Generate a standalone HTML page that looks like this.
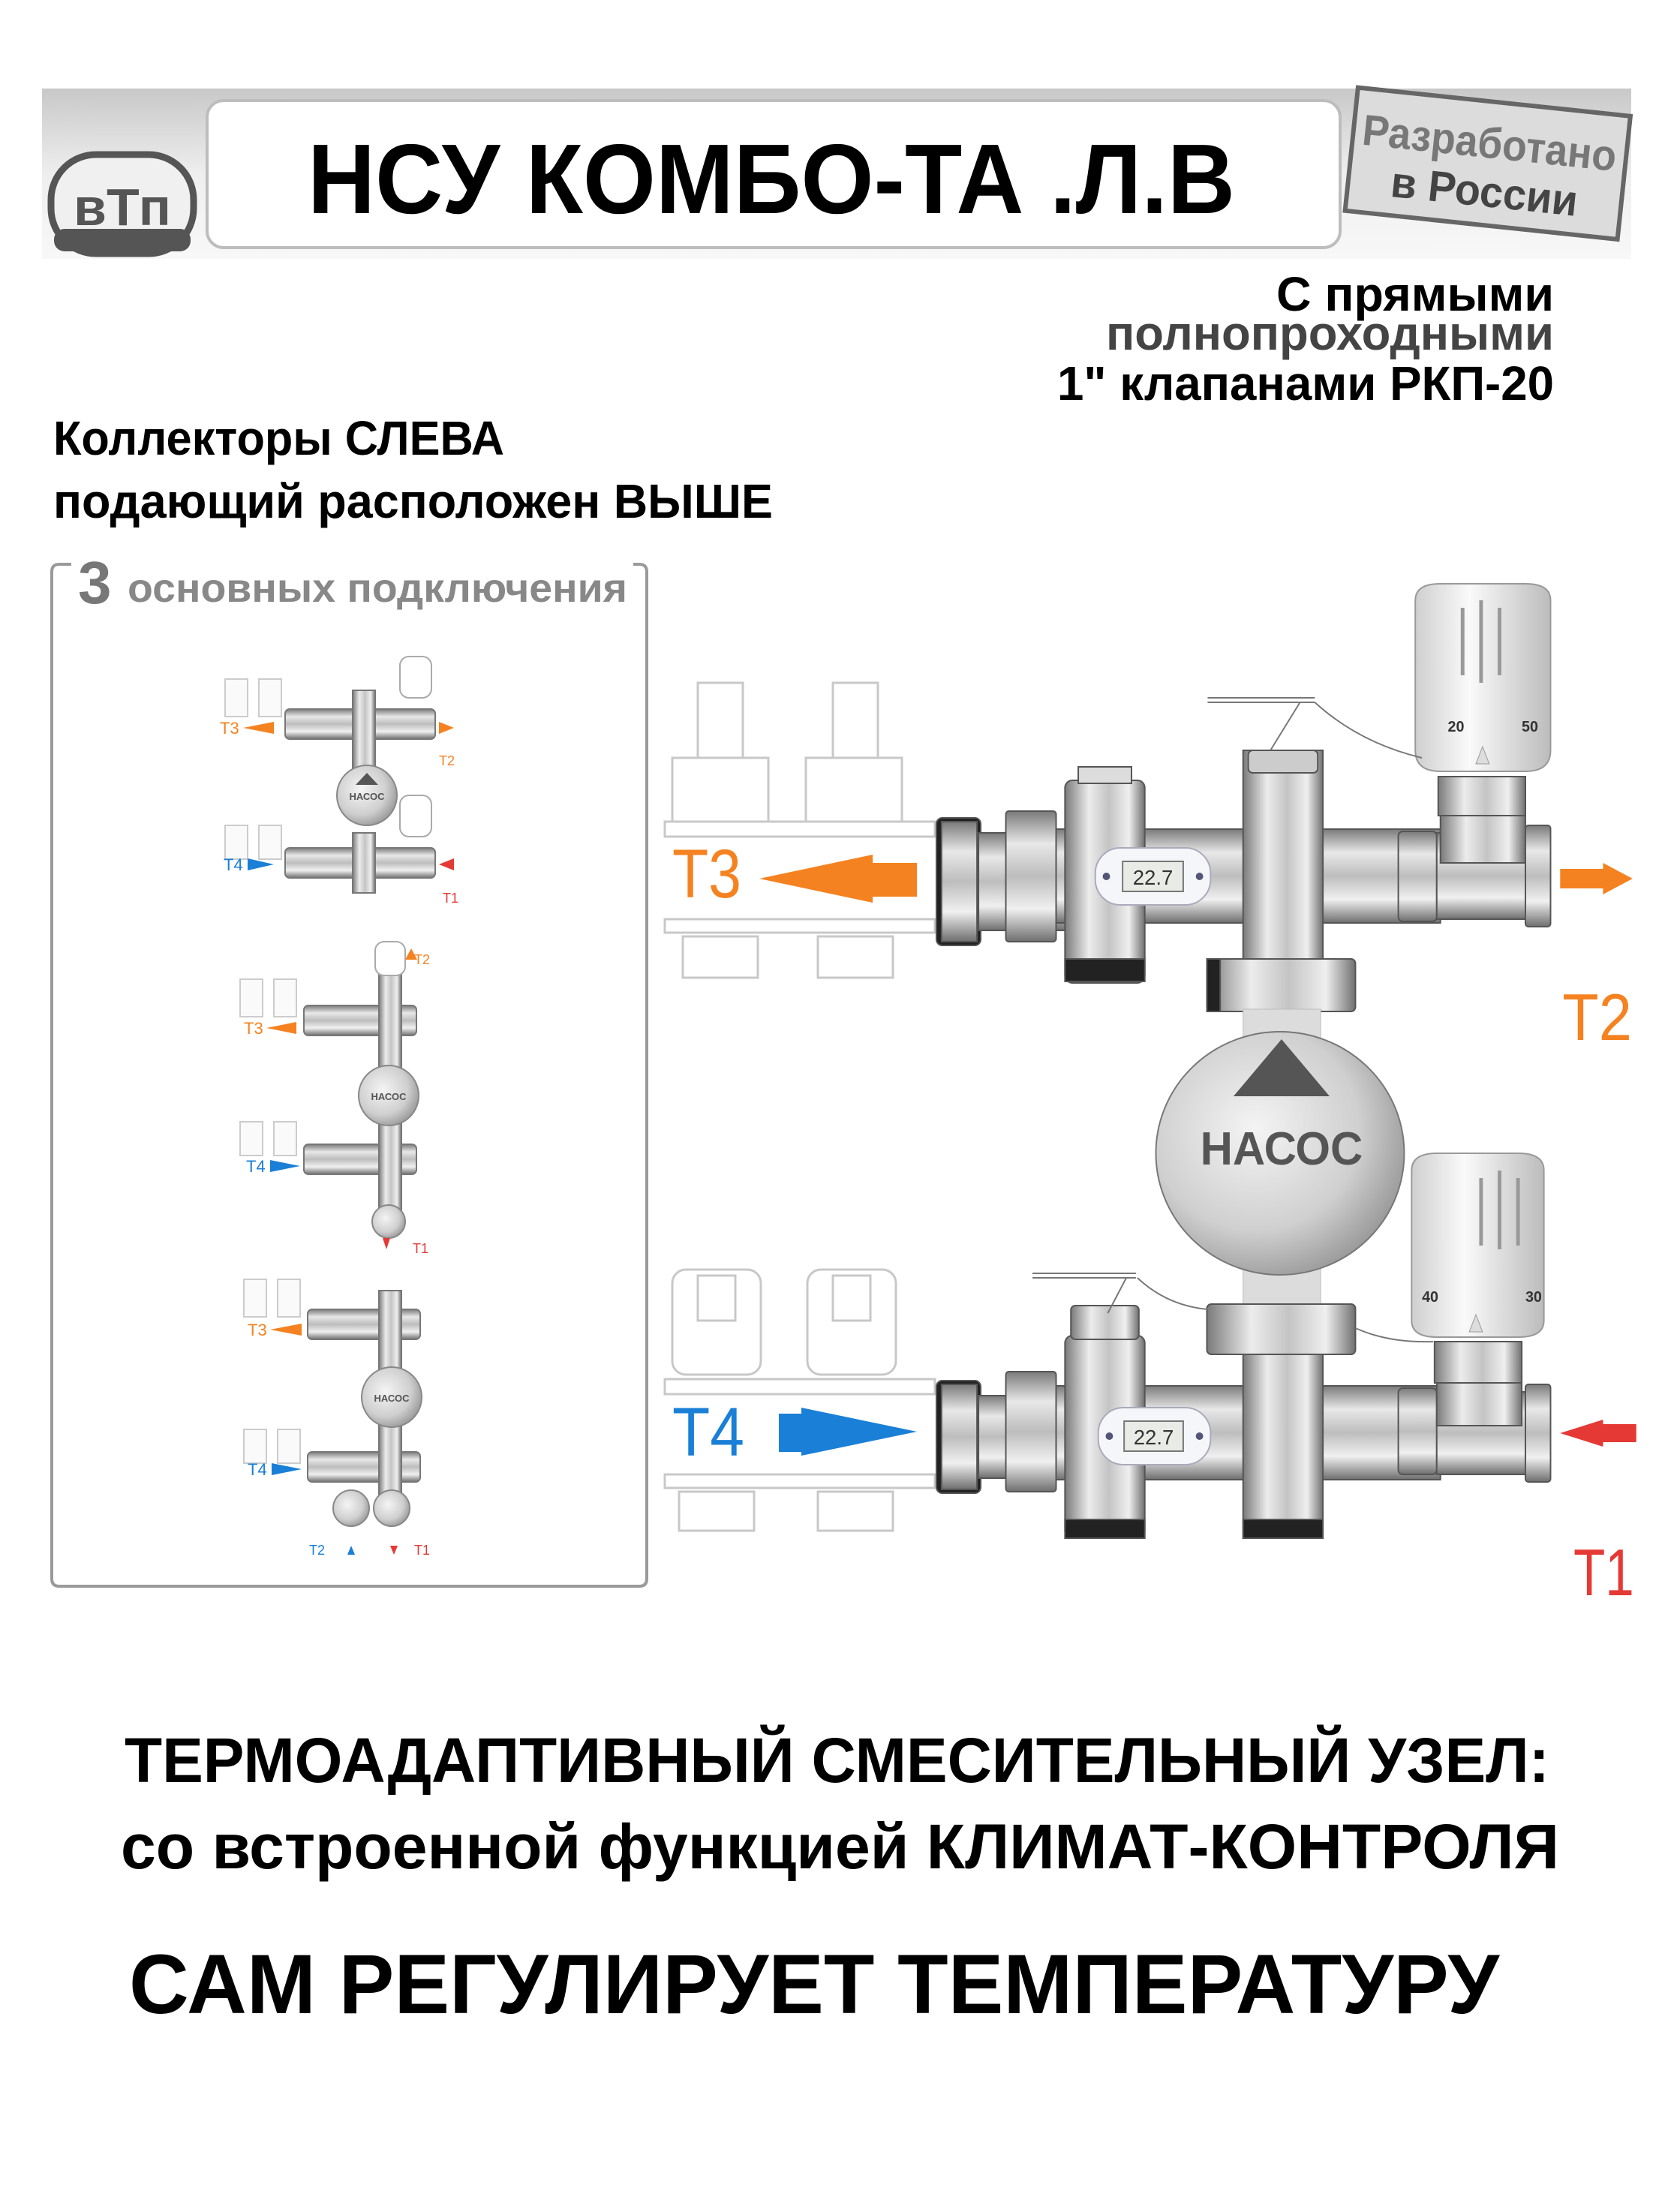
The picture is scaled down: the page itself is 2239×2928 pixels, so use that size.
<!DOCTYPE html>
<html><head><meta charset="utf-8"><style>
html,body{margin:0;padding:0;background:#fff;}
svg{display:block;}
text{font-family:"Liberation Sans",sans-serif;}
</style></head><body>
<svg width="2239" height="2928" viewBox="0 0 2239 2928" xmlns="http://www.w3.org/2000/svg">
<defs>
<linearGradient id="band" x1="0" y1="0" x2="0" y2="1"><stop offset="0" stop-color="#c8c8c8"/><stop offset="0.5" stop-color="#eeeeee"/><stop offset="1" stop-color="#f8f8f8"/></linearGradient>
<linearGradient id="mv" x1="0" y1="0" x2="0" y2="1"><stop offset="0" stop-color="#7a7a7a"/><stop offset="0.25" stop-color="#e8e8e8"/><stop offset="0.5" stop-color="#bdbdbd"/><stop offset="0.75" stop-color="#f0f0f0"/><stop offset="1" stop-color="#6e6e6e"/></linearGradient>
<linearGradient id="mh" x1="0" y1="0" x2="1" y2="0"><stop offset="0" stop-color="#7a7a7a"/><stop offset="0.3" stop-color="#ececec"/><stop offset="0.55" stop-color="#c4c4c4"/><stop offset="0.8" stop-color="#efefef"/><stop offset="1" stop-color="#707070"/></linearGradient>
<radialGradient id="sph" cx="0.4" cy="0.4" r="0.7"><stop offset="0" stop-color="#f4f4f4"/><stop offset="0.6" stop-color="#cfcfcf"/><stop offset="1" stop-color="#8c8c8c"/></radialGradient>
<linearGradient id="wh" x1="0" y1="0" x2="1" y2="0"><stop offset="0" stop-color="#cfcfcf"/><stop offset="0.4" stop-color="#fafafa"/><stop offset="1" stop-color="#bcbcbc"/></linearGradient>
</defs>

<!-- header -->
<rect x="56" y="118" width="2118" height="227" fill="url(#band)"/>
<rect x="276" y="134" width="1510" height="196" rx="22" fill="#fff" stroke="#bdbdbd" stroke-width="4"/>
<text x="1028" y="284" font-size="132" font-weight="bold" text-anchor="middle" textLength="1236" lengthAdjust="spacingAndGlyphs">НСУ КОМБО-ТА .Л.В</text>
<rect x="68" y="206" width="190" height="132" rx="60" fill="#f0f0f0" stroke="#555" stroke-width="9"/>
<rect x="72" y="305" width="182" height="30" rx="14" fill="#555"/>
<text x="163" y="300" font-size="70" font-weight="bold" fill="#555" text-anchor="middle" textLength="130" lengthAdjust="spacingAndGlyphs">вТп</text>
<g transform="rotate(6 1980 220)">
<rect x="1800" y="135" width="365" height="165" fill="#dcdcdc" stroke="#666" stroke-width="6"/>
<text x="1982" y="210" font-size="58" font-weight="bold" fill="#777" text-anchor="middle" textLength="340" lengthAdjust="spacingAndGlyphs">Разработано</text>
<text x="1982" y="275" font-size="58" font-weight="bold" fill="#444" text-anchor="middle" textLength="250" lengthAdjust="spacingAndGlyphs">в России</text>
</g>

<text x="2071" y="414" font-size="64" font-weight="bold" text-anchor="end" textLength="370" lengthAdjust="spacingAndGlyphs">С  прямыми</text>
<text x="2071" y="466" font-size="64" font-weight="bold" fill="#444" text-anchor="end" textLength="597" lengthAdjust="spacingAndGlyphs">полнопроходными</text>
<text x="2071" y="533" font-size="64" font-weight="bold" text-anchor="end" textLength="662" lengthAdjust="spacingAndGlyphs">1" клапанами РКП-20</text>

<text x="71" y="606" font-size="64" font-weight="bold" textLength="601" lengthAdjust="spacingAndGlyphs">Коллекторы СЛЕВА</text>
<text x="71" y="690" font-size="64" font-weight="bold" textLength="959" lengthAdjust="spacingAndGlyphs">подающий расположен ВЫШЕ</text>

<!-- left panel -->
<path d="M95 752 H79 Q69 752 69 762 V2104 Q69 2114 79 2114 H852 Q862 2114 862 2104 V762 Q862 752 852 752 H844" fill="none" stroke="#9a9a9a" stroke-width="4"/>
<text x="104" y="804" font-size="80" font-weight="bold" fill="#777">3</text>
<text x="170" y="802" font-size="54" font-weight="bold" fill="#888" textLength="666" lengthAdjust="spacingAndGlyphs">основных подключения</text>

<g stroke="#ccc" stroke-width="2" fill="#fafafa">
<rect x="300" y="905" width="30" height="50"/><rect x="345" y="905" width="30" height="50"/>
<rect x="300" y="1100" width="30" height="45"/><rect x="345" y="1100" width="30" height="45"/>
<rect x="320" y="1305" width="30" height="50"/><rect x="365" y="1305" width="30" height="50"/>
<rect x="320" y="1495" width="30" height="45"/><rect x="365" y="1495" width="30" height="45"/>
<rect x="325" y="1705" width="30" height="50"/><rect x="370" y="1705" width="30" height="50"/>
<rect x="325" y="1905" width="30" height="45"/><rect x="370" y="1905" width="30" height="45"/>
</g>
<g fill="url(#mv)" stroke="#777" stroke-width="2">
<rect x="380" y="945" width="200" height="40" rx="6"/><rect x="380" y="1130" width="200" height="40" rx="6"/>
<rect x="405" y="1340" width="150" height="40" rx="6"/><rect x="405" y="1525" width="150" height="40" rx="6"/>
<rect x="410" y="1745" width="150" height="40" rx="6"/><rect x="410" y="1935" width="150" height="40" rx="6"/>
</g>
<g fill="url(#mh)" stroke="#777" stroke-width="2">
<rect x="470" y="920" width="30" height="140"/><rect x="470" y="1110" width="30" height="80"/>
<rect x="505" y="1290" width="30" height="330"/>
<rect x="505" y="1720" width="30" height="290"/>
</g>
<g fill="url(#sph)" stroke="#888" stroke-width="2">
<circle cx="489" cy="1060" r="40"/><circle cx="518" cy="1460" r="40"/><circle cx="522" cy="1862" r="40"/>
<circle cx="518" cy="1628" r="22"/><circle cx="468" cy="2010" r="24"/><circle cx="522" cy="2010" r="24"/>
</g>
<g fill="#fff" stroke="#aaa" stroke-width="2">
<rect x="533" y="875" width="42" height="55" rx="12"/><rect x="533" y="1060" width="42" height="55" rx="12"/>
<rect x="500" y="1255" width="40" height="45" rx="12"/>
</g>
<g fill="#555"><polygon points="489,1030 474,1046 504,1046"/></g>
<g font-size="13" font-weight="bold" fill="#555" text-anchor="middle"><text x="489" y="1066">НАСОС</text><text x="518" y="1466">НАСОС</text><text x="522" y="1868">НАСОС</text></g>
<g font-size="22">
<text x="293" y="978" fill="#f58220">T3</text><polygon points="324,970 365,962 365,978" fill="#f58220"/>
<polygon points="585,962 605,970 585,978" fill="#f58220"/><text x="585" y="1020" fill="#f58220" font-size="18">T2</text>
<text x="298" y="1160" fill="#1a7fd6">T4</text><polygon points="365,1152 330,1144 330,1160" fill="#1a7fd6"/>
<polygon points="605,1144 585,1152 605,1160" fill="#e53935"/><text x="590" y="1203" fill="#e53935" font-size="18">T1</text>
<text x="325" y="1378" fill="#f58220">T3</text><polygon points="355,1370 395,1362 395,1378" fill="#f58220"/>
<polygon points="548,1280 540,1265 556,1265" fill="#f58220" transform="rotate(180 548 1272)"/><text x="552" y="1285" fill="#f58220" font-size="18">T2</text>
<text x="328" y="1562" fill="#1a7fd6">T4</text><polygon points="400,1554 360,1546 360,1562" fill="#1a7fd6"/>
<polygon points="515,1665 510,1650 520,1650" fill="#e53935"/><text x="550" y="1670" fill="#e53935" font-size="18">T1</text>
<text x="330" y="1780" fill="#f58220">T3</text><polygon points="360,1772 402,1764 402,1780" fill="#f58220"/>
<text x="330" y="1966" fill="#1a7fd6">T4</text><polygon points="402,1958 362,1950 362,1966" fill="#1a7fd6"/>
<text x="412" y="2072" fill="#1a7fd6" font-size="18">T2</text><polygon points="468,2060 463,2072 473,2072" fill="#1a7fd6"/>
<text x="552" y="2072" fill="#e53935" font-size="18">T1</text><polygon points="525,2072 520,2060 530,2060" fill="#e53935"/>
</g>

<!-- main diagram: ghost collectors -->
<g fill="none" stroke="#c8c8c8" stroke-width="3">
<rect x="886" y="1095" width="360" height="20"/><rect x="886" y="1225" width="360" height="18"/>
<rect x="896" y="1010" width="128" height="85"/><rect x="1074" y="1010" width="128" height="85"/>
<rect x="930" y="910" width="60" height="100"/><rect x="1110" y="910" width="60" height="100"/>
<rect x="910" y="1248" width="100" height="55"/><rect x="1090" y="1248" width="100" height="55"/>
<rect x="886" y="1838" width="360" height="20"/><rect x="886" y="1965" width="360" height="18"/>
<rect x="896" y="1692" width="118" height="140" rx="18"/><rect x="1076" y="1692" width="118" height="140" rx="18"/>
<rect x="930" y="1700" width="50" height="60"/><rect x="1110" y="1700" width="50" height="60"/>
<rect x="905" y="1988" width="100" height="52"/><rect x="1090" y="1988" width="100" height="52"/>
</g>

<text x="896" y="1196" font-size="92" fill="#f58220" textLength="92" lengthAdjust="spacingAndGlyphs">T3</text>
<polygon points="1012,1171 1163,1139 1163,1150 1222,1150 1222,1195 1163,1195 1163,1203" fill="#f58220"/>
<text x="896" y="1940" font-size="92" fill="#1a7fd6" textLength="96" lengthAdjust="spacingAndGlyphs">T4</text>
<polygon points="1222,1908 1068,1876 1068,1884 1038,1884 1038,1935 1068,1935 1068,1940" fill="#1a7fd6"/>

<g transform="translate(1244 0) scale(0.985 1) translate(-1244 0)">
<!-- upper assembly -->
<g stroke="#555" stroke-width="2">
<rect x="1248" y="1090" width="60" height="170" rx="8" fill="#222"/>
<rect x="1255" y="1095" width="48" height="160" fill="url(#mv)"/>
<rect x="1305" y="1110" width="150" height="130" fill="url(#mv)"/>
<rect x="1342" y="1081" width="68" height="174" rx="4" fill="url(#mv)"/>
<rect x="1410" y="1105" width="520" height="125" fill="url(#mv)"/>
<rect x="1422" y="1040" width="108" height="270" rx="10" fill="url(#mh)"/>
<rect x="1422" y="1278" width="108" height="30" fill="#222"/>
<rect x="1440" y="1022" width="72" height="22" fill="#ddd"/>
<rect x="1663" y="1000" width="108" height="290" fill="url(#mh)"/>
<rect x="1670" y="1000" width="94" height="30" rx="6" fill="#ccc"/>
<rect x="1614" y="1278" width="201" height="70" rx="6" fill="url(#mh)"/>
<rect x="1614" y="1278" width="18" height="70" fill="#222"/>
<rect x="1873" y="1108" width="52" height="120" rx="6" fill="url(#mv)"/>
<rect x="1925" y="1110" width="135" height="115" fill="url(#mv)"/>
<rect x="2045" y="1100" width="34" height="135" rx="4" fill="url(#mv)"/>
<rect x="1930" y="1035" width="115" height="115" fill="url(#mh)"/>
<rect x="1927" y="1035" width="118" height="52" fill="url(#mh)"/>
<path d="M1896 800 Q1896 778 1930 778 H2045 Q2079 778 2079 800 V1000 Q2079 1028 2045 1028 H1930 Q1896 1028 1896 1000 Z" fill="url(#wh)" stroke="#999"/>
</g>
<g stroke="#999" stroke-width="5"><line x1="1960" y1="810" x2="1960" y2="900"/><line x1="1985" y1="800" x2="1985" y2="910"/><line x1="2010" y1="810" x2="2010" y2="900"/></g>
<text x="1940" y="975" font-size="20" font-weight="bold" fill="#333">20</text><text x="2040" y="975" font-size="20" font-weight="bold" fill="#333">50</text>
<polygon points="1987,995 1978,1018 1996,1018" fill="#ddd" stroke="#999"/>
<path d="M1615 930 H1760 M1615 936 H1760 M1740 936 L1700 1000 M1760 936 Q1820 990 1905 1010" fill="none" stroke="#777" stroke-width="2"/>
<rect x="1463" y="1130" width="156" height="76" rx="34" fill="#f4f6fa" stroke="#aab" stroke-width="2"/>
<rect x="1500" y="1148" width="82" height="40" fill="#e9ebe6" stroke="#777" stroke-width="2"/>
<text x="1541" y="1179" font-size="28" text-anchor="middle" fill="#333">22.7</text>
<circle cx="1478" cy="1168" r="5" fill="#557"/><circle cx="1604" cy="1168" r="5" fill="#557"/>
<polygon points="2092,1158 2150,1158 2150,1150 2190,1171 2150,1192 2150,1184 2092,1184" fill="#f58220"/>
<text x="2095" y="1386" font-size="88" fill="#f58220" textLength="94" lengthAdjust="spacingAndGlyphs">T2</text>

<!-- pump -->
<rect x="1663" y="1345" width="105" height="400" fill="#dcdcdc" stroke="#bbb"/>
<ellipse cx="1713" cy="1537" rx="168" ry="162" fill="url(#sph)" stroke="#777" stroke-width="2"/>
<polygon points="1715,1385 1650,1461 1780,1461" fill="#555"/>
<text x="1715" y="1552" font-size="62" font-weight="bold" fill="#555" text-anchor="middle" textLength="220" lengthAdjust="spacingAndGlyphs">НАСОС</text>

<!-- lower assembly -->
<g stroke="#555" stroke-width="2">
<rect x="1248" y="1840" width="60" height="150" rx="8" fill="#222"/>
<rect x="1255" y="1845" width="48" height="140" fill="url(#mv)"/>
<rect x="1305" y="1860" width="150" height="110" fill="url(#mv)"/>
<rect x="1342" y="1828" width="68" height="160" rx="4" fill="url(#mv)"/>
<rect x="1410" y="1847" width="520" height="125" fill="url(#mv)"/>
<rect x="1422" y="1780" width="108" height="270" rx="10" fill="url(#mh)"/>
<rect x="1422" y="2025" width="108" height="25" fill="#222"/>
<rect x="1430" y="1740" width="92" height="45" rx="6" fill="url(#mh)"/>
<rect x="1663" y="1800" width="108" height="250" fill="url(#mh)"/>
<rect x="1663" y="2025" width="108" height="25" fill="#222"/>
<rect x="1614" y="1738" width="201" height="67" rx="6" fill="url(#mh)"/>
<rect x="1873" y="1850" width="52" height="115" rx="6" fill="url(#mv)"/>
<rect x="1925" y="1855" width="135" height="110" fill="url(#mv)"/>
<rect x="2045" y="1845" width="34" height="130" rx="4" fill="url(#mv)"/>
<rect x="1925" y="1790" width="115" height="110" fill="url(#mh)"/>
<rect x="1922" y="1788" width="118" height="55" fill="url(#mh)"/>
<path d="M1891 1560 Q1891 1537 1925 1537 H2036 Q2070 1537 2070 1560 V1760 Q2070 1782 2036 1782 H1925 Q1891 1782 1891 1760 Z" fill="url(#wh)" stroke="#999"/>
</g>
<g stroke="#999" stroke-width="5"><line x1="1985" y1="1570" x2="1985" y2="1660"/><line x1="2010" y1="1560" x2="2010" y2="1665"/><line x1="2035" y1="1570" x2="2035" y2="1660"/></g>
<text x="1905" y="1735" font-size="20" font-weight="bold" fill="#333">40</text><text x="2045" y="1735" font-size="20" font-weight="bold" fill="#333">30</text>
<polygon points="1978,1752 1969,1775 1987,1775" fill="#ddd" stroke="#999"/>
<path d="M1378 1697 H1518 M1378 1703 H1518 M1505 1703 L1480 1750 M1520 1703 Q1560 1740 1615 1745 M1815 1770 Q1860 1790 1920 1788" fill="none" stroke="#777" stroke-width="2"/>
<rect x="1467" y="1876" width="152" height="76" rx="34" fill="#f4f6fa" stroke="#aab" stroke-width="2"/>
<rect x="1502" y="1894" width="80" height="40" fill="#e9ebe6" stroke="#777" stroke-width="2"/>
<text x="1542" y="1925" font-size="28" text-anchor="middle" fill="#333">22.7</text>
<circle cx="1482" cy="1914" r="5" fill="#557"/><circle cx="1604" cy="1914" r="5" fill="#557"/>
<polygon points="2195,1898 2150,1898 2150,1892 2092,1910 2150,1928 2150,1922 2195,1922" fill="#e53935"/>
<text x="2110" y="2126" font-size="88" fill="#e53935" textLength="82" lengthAdjust="spacingAndGlyphs">T1</text>
</g>

<!-- bottom text -->
<text x="166" y="2375" font-size="84" font-weight="bold" textLength="1899" lengthAdjust="spacingAndGlyphs">ТЕРМОАДАПТИВНЫЙ СМЕСИТЕЛЬНЫЙ УЗЕЛ:</text>
<text x="161" y="2490" font-size="84" font-weight="bold" textLength="1917" lengthAdjust="spacingAndGlyphs">со встроенной функцией КЛИМАТ-КОНТРОЛЯ</text>
<text x="172" y="2683" font-size="112" font-weight="bold" textLength="1826" lengthAdjust="spacingAndGlyphs">САМ РЕГУЛИРУЕТ ТЕМПЕРАТУРУ</text>
</svg>
</body></html>
